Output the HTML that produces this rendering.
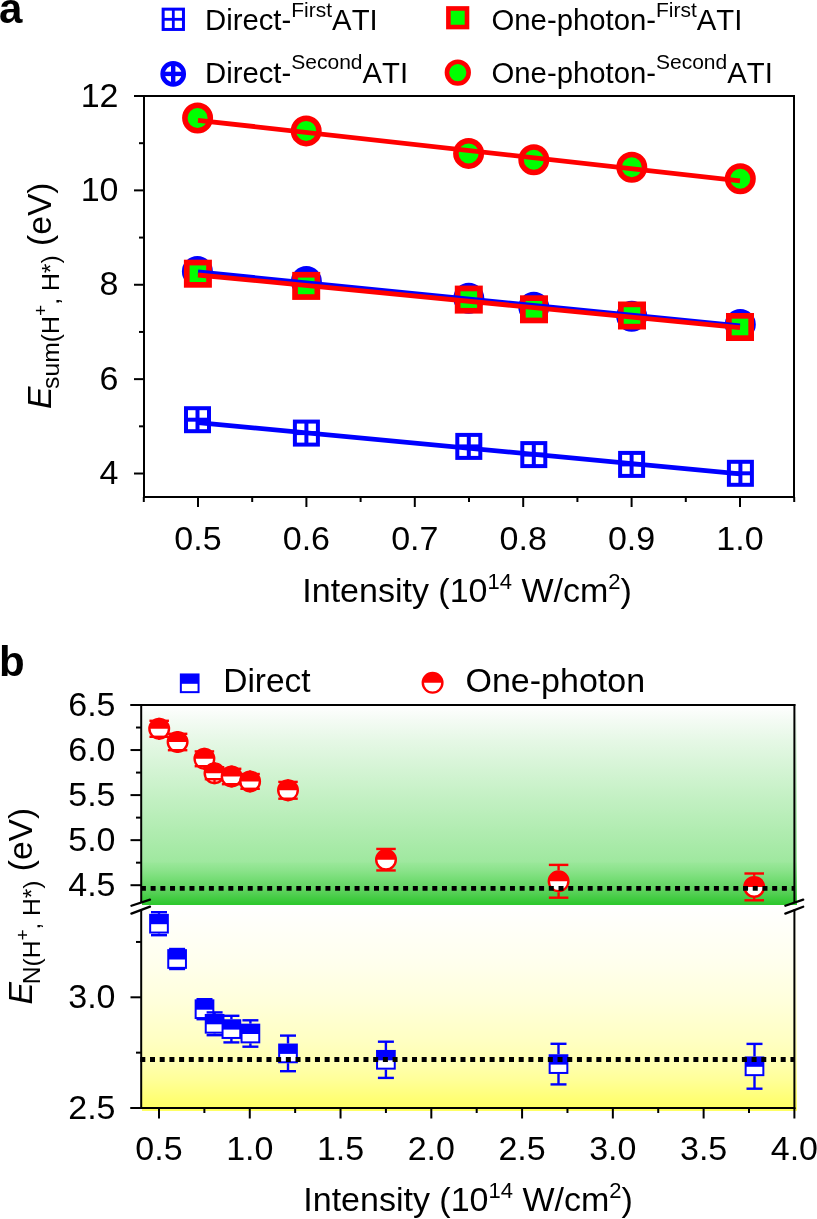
<!DOCTYPE html>
<html><head><meta charset="utf-8"><style>
html,body{margin:0;padding:0;background:#fff;}
svg{display:block;will-change:transform;}
text{font-family:"Liberation Sans", sans-serif;fill:#000;font-kerning:none;}
</style></head><body>
<svg width="817" height="1219" viewBox="0 0 817 1219">
<rect x="144" y="96" width="650" height="401" fill="none" stroke="#000" stroke-width="2"/>
<line x1="134" y1="473.52" x2="144" y2="473.52" stroke="#000" stroke-width="2"/>
<line x1="134" y1="379.14" x2="144" y2="379.14" stroke="#000" stroke-width="2"/>
<line x1="134" y1="284.76" x2="144" y2="284.76" stroke="#000" stroke-width="2"/>
<line x1="134" y1="190.38" x2="144" y2="190.38" stroke="#000" stroke-width="2"/>
<line x1="134" y1="96.00" x2="144" y2="96.00" stroke="#000" stroke-width="2"/>
<line x1="139" y1="426.33" x2="144" y2="426.33" stroke="#000" stroke-width="2"/>
<line x1="139" y1="331.95" x2="144" y2="331.95" stroke="#000" stroke-width="2"/>
<line x1="139" y1="237.57" x2="144" y2="237.57" stroke="#000" stroke-width="2"/>
<line x1="139" y1="143.19" x2="144" y2="143.19" stroke="#000" stroke-width="2"/>
<line x1="198.00" y1="497" x2="198.00" y2="507" stroke="#000" stroke-width="2"/>
<line x1="306.40" y1="497" x2="306.40" y2="507" stroke="#000" stroke-width="2"/>
<line x1="414.80" y1="497" x2="414.80" y2="507" stroke="#000" stroke-width="2"/>
<line x1="523.20" y1="497" x2="523.20" y2="507" stroke="#000" stroke-width="2"/>
<line x1="631.60" y1="497" x2="631.60" y2="507" stroke="#000" stroke-width="2"/>
<line x1="740.00" y1="497" x2="740.00" y2="507" stroke="#000" stroke-width="2"/>
<line x1="143.80" y1="497" x2="143.80" y2="502" stroke="#000" stroke-width="2"/>
<line x1="252.20" y1="497" x2="252.20" y2="502" stroke="#000" stroke-width="2"/>
<line x1="360.60" y1="497" x2="360.60" y2="502" stroke="#000" stroke-width="2"/>
<line x1="469.00" y1="497" x2="469.00" y2="502" stroke="#000" stroke-width="2"/>
<line x1="577.40" y1="497" x2="577.40" y2="502" stroke="#000" stroke-width="2"/>
<line x1="685.80" y1="497" x2="685.80" y2="502" stroke="#000" stroke-width="2"/>
<line x1="794.20" y1="497" x2="794.20" y2="502" stroke="#000" stroke-width="2"/>
<rect x="186.00" y="408.20" width="23.00" height="23.00" fill="#fff" stroke="#0000ff" stroke-width="4"/><line x1="197.50" y1="408.20" x2="197.50" y2="431.20" stroke="#0000ff" stroke-width="4"/><line x1="186.00" y1="419.70" x2="209.00" y2="419.70" stroke="#0000ff" stroke-width="4"/>
<rect x="294.90" y="421.60" width="23.00" height="23.00" fill="#fff" stroke="#0000ff" stroke-width="4"/><line x1="306.40" y1="421.60" x2="306.40" y2="444.60" stroke="#0000ff" stroke-width="4"/><line x1="294.90" y1="433.10" x2="317.90" y2="433.10" stroke="#0000ff" stroke-width="4"/>
<rect x="457.30" y="434.90" width="23.00" height="23.00" fill="#fff" stroke="#0000ff" stroke-width="4"/><line x1="468.80" y1="434.90" x2="468.80" y2="457.90" stroke="#0000ff" stroke-width="4"/><line x1="457.30" y1="446.40" x2="480.30" y2="446.40" stroke="#0000ff" stroke-width="4"/>
<rect x="522.30" y="443.10" width="23.00" height="23.00" fill="#fff" stroke="#0000ff" stroke-width="4"/><line x1="533.80" y1="443.10" x2="533.80" y2="466.10" stroke="#0000ff" stroke-width="4"/><line x1="522.30" y1="454.60" x2="545.30" y2="454.60" stroke="#0000ff" stroke-width="4"/>
<rect x="620.10" y="452.90" width="23.00" height="23.00" fill="#fff" stroke="#0000ff" stroke-width="4"/><line x1="631.60" y1="452.90" x2="631.60" y2="475.90" stroke="#0000ff" stroke-width="4"/><line x1="620.10" y1="464.40" x2="643.10" y2="464.40" stroke="#0000ff" stroke-width="4"/>
<rect x="728.90" y="461.80" width="23.00" height="23.00" fill="#fff" stroke="#0000ff" stroke-width="4"/><line x1="740.40" y1="461.80" x2="740.40" y2="484.80" stroke="#0000ff" stroke-width="4"/><line x1="728.90" y1="473.30" x2="751.90" y2="473.30" stroke="#0000ff" stroke-width="4"/>
<circle cx="197.40" cy="271.50" r="12.75" fill="#fff" stroke="#0000ff" stroke-width="5.5"/><line x1="197.40" y1="258.75" x2="197.40" y2="284.25" stroke="#0000ff" stroke-width="5"/><line x1="184.65" y1="271.50" x2="210.15" y2="271.50" stroke="#0000ff" stroke-width="5"/>
<circle cx="306.40" cy="281.50" r="12.75" fill="#fff" stroke="#0000ff" stroke-width="5.5"/><line x1="306.40" y1="268.75" x2="306.40" y2="294.25" stroke="#0000ff" stroke-width="5"/><line x1="293.65" y1="281.50" x2="319.15" y2="281.50" stroke="#0000ff" stroke-width="5"/>
<circle cx="468.80" cy="298.30" r="12.75" fill="#fff" stroke="#0000ff" stroke-width="5.5"/><line x1="468.80" y1="285.55" x2="468.80" y2="311.05" stroke="#0000ff" stroke-width="5"/><line x1="456.05" y1="298.30" x2="481.55" y2="298.30" stroke="#0000ff" stroke-width="5"/>
<circle cx="533.80" cy="307.20" r="12.75" fill="#fff" stroke="#0000ff" stroke-width="5.5"/><line x1="533.80" y1="294.45" x2="533.80" y2="319.95" stroke="#0000ff" stroke-width="5"/><line x1="521.05" y1="307.20" x2="546.55" y2="307.20" stroke="#0000ff" stroke-width="5"/>
<circle cx="631.70" cy="316.20" r="12.75" fill="#fff" stroke="#0000ff" stroke-width="5.5"/><line x1="631.70" y1="303.45" x2="631.70" y2="328.95" stroke="#0000ff" stroke-width="5"/><line x1="618.95" y1="316.20" x2="644.45" y2="316.20" stroke="#0000ff" stroke-width="5"/>
<circle cx="740.30" cy="324.50" r="12.75" fill="#fff" stroke="#0000ff" stroke-width="5.5"/><line x1="740.30" y1="311.75" x2="740.30" y2="337.25" stroke="#0000ff" stroke-width="5"/><line x1="727.55" y1="324.50" x2="753.05" y2="324.50" stroke="#0000ff" stroke-width="5"/>
<rect x="186.75" y="262.55" width="22.30" height="22.30" fill="#00ff00" stroke="#ff0000" stroke-width="5.7"/>
<rect x="295.05" y="274.75" width="22.30" height="22.30" fill="#00ff00" stroke="#ff0000" stroke-width="5.7"/>
<rect x="457.65" y="288.45" width="22.30" height="22.30" fill="#00ff00" stroke="#ff0000" stroke-width="5.7"/>
<rect x="522.85" y="298.15" width="22.30" height="22.30" fill="#00ff00" stroke="#ff0000" stroke-width="5.7"/>
<rect x="620.85" y="304.35" width="22.30" height="22.30" fill="#00ff00" stroke="#ff0000" stroke-width="5.7"/>
<rect x="728.85" y="315.85" width="22.30" height="22.30" fill="#00ff00" stroke="#ff0000" stroke-width="5.7"/>
<circle cx="197.60" cy="118.00" r="12.75" fill="#00ff00" stroke="#ff0000" stroke-width="5.5"/>
<circle cx="306.20" cy="130.90" r="12.75" fill="#00ff00" stroke="#ff0000" stroke-width="5.5"/>
<circle cx="468.60" cy="153.40" r="12.75" fill="#00ff00" stroke="#ff0000" stroke-width="5.5"/>
<circle cx="533.80" cy="159.70" r="12.75" fill="#00ff00" stroke="#ff0000" stroke-width="5.5"/>
<circle cx="631.80" cy="167.20" r="12.75" fill="#00ff00" stroke="#ff0000" stroke-width="5.5"/>
<circle cx="740.30" cy="178.80" r="12.75" fill="#00ff00" stroke="#ff0000" stroke-width="5.5"/>
<line x1="198" y1="422.6" x2="740" y2="473.9" stroke="#0000ff" stroke-width="4.8"/>
<line x1="198" y1="272" x2="740" y2="326" stroke="#0000ff" stroke-width="4.8"/>
<line x1="198" y1="275" x2="740" y2="327.6" stroke="#ff0000" stroke-width="4.8"/>
<line x1="198" y1="120.3" x2="740" y2="180.8" stroke="#ff0000" stroke-width="4.8"/>
<text x="118.5" y="484.12" text-anchor="end" font-size="34">4</text>
<text x="118.5" y="389.74" text-anchor="end" font-size="34">6</text>
<text x="118.5" y="295.36" text-anchor="end" font-size="34">8</text>
<text x="118.5" y="200.98" text-anchor="end" font-size="34">10</text>
<text x="118.5" y="106.60" text-anchor="end" font-size="34">12</text>
<text x="198.00" y="550.2" text-anchor="middle" font-size="34">0.5</text>
<text x="306.40" y="550.2" text-anchor="middle" font-size="34">0.6</text>
<text x="414.80" y="550.2" text-anchor="middle" font-size="34">0.7</text>
<text x="523.20" y="550.2" text-anchor="middle" font-size="34">0.8</text>
<text x="631.60" y="550.2" text-anchor="middle" font-size="34">0.9</text>
<text x="740.00" y="550.2" text-anchor="middle" font-size="34">1.0</text>
<text x="467.1" y="602" text-anchor="middle" font-size="34">Intensity (10<tspan font-size="22" dy="-13">14</tspan><tspan dy="13"> W/cm</tspan><tspan font-size="22" dy="-13">2</tspan><tspan dy="13">)</tspan></text>
<text transform="translate(51.3,295.7) rotate(-90)" text-anchor="middle" font-size="33.6"><tspan font-style="italic">E</tspan><tspan font-size="24.8" dx="-2.5" dy="7.7">sum(H</tspan><tspan font-size="19" dy="-12">+</tspan><tspan font-size="24.8" dy="12">, H*)</tspan><tspan dy="-7.7"> (eV)</tspan></text>
<rect x="163.15" y="9.15" width="20.30" height="20.30" fill="#fff" stroke="#0000ff" stroke-width="3"/><line x1="173.30" y1="9.15" x2="173.30" y2="29.45" stroke="#0000ff" stroke-width="2.8"/><line x1="163.15" y1="19.30" x2="183.45" y2="19.30" stroke="#0000ff" stroke-width="2.8"/>
<circle cx="173.20" cy="73.90" r="10.55" fill="#fff" stroke="#0000ff" stroke-width="4.6"/><line x1="173.20" y1="63.35" x2="173.20" y2="84.45" stroke="#0000ff" stroke-width="4.4"/><line x1="162.65" y1="73.90" x2="183.75" y2="73.90" stroke="#0000ff" stroke-width="4.4"/>
<rect x="448.40" y="8.45" width="18.60" height="18.60" fill="#00ff00" stroke="#ff0000" stroke-width="4.6"/>
<circle cx="457.80" cy="72.60" r="10.85" fill="#00ff00" stroke="#ff0000" stroke-width="4.6"/>
<text x="205" y="30" font-size="29.3">Direct-<tspan font-size="21" dy="-13.3">First</tspan><tspan dy="13.3">ATI</tspan></text>
<text x="205" y="82.7" font-size="29.3">Direct-<tspan font-size="21" dy="-13.3">Second</tspan><tspan dy="13.3">ATI</tspan></text>
<text x="491.5" y="30" font-size="29.3">One-photon-<tspan font-size="21" dy="-13.3">First</tspan><tspan dy="13.3">ATI</tspan></text>
<text x="491.5" y="82.7" font-size="29.3">One-photon-<tspan font-size="21" dy="-13.3">Second</tspan><tspan dy="13.3">ATI</tspan></text>
<text x="-1" y="22.5" font-size="42" font-weight="bold">a</text>
<text x="-1" y="676" font-size="42" font-weight="bold">b</text>
<defs>
<linearGradient id="gg" gradientUnits="userSpaceOnUse" x1="0" y1="706" x2="0" y2="905">
<stop offset="0.0000" stop-color="rgb(255, 255, 255)"/>
<stop offset="0.0101" stop-color="rgb(253, 254, 253)"/>
<stop offset="0.0704" stop-color="rgb(244, 251, 244)"/>
<stop offset="0.1709" stop-color="rgb(230, 248, 230)"/>
<stop offset="0.4724" stop-color="rgb(194, 240, 194)"/>
<stop offset="0.7839" stop-color="rgb(159, 232, 159)"/>
<stop offset="0.7915" stop-color="rgb(152, 231, 152)"/>
<stop offset="0.8241" stop-color="rgb(140, 227, 140)"/>
<stop offset="0.8643" stop-color="rgb(120, 222, 120)"/>
<stop offset="0.9347" stop-color="rgb(88, 208, 88)"/>
<stop offset="0.9950" stop-color="rgb(46, 200, 46)"/>
<stop offset="1.0000" stop-color="rgb(46, 200, 46)"/>
</linearGradient>
<linearGradient id="yg" gradientUnits="userSpaceOnUse" x1="0" y1="905" x2="0" y2="1111">
<stop offset="0.0000" stop-color="rgb(255, 255, 255)"/>
<stop offset="0.2670" stop-color="rgb(255, 255, 238)"/>
<stop offset="0.4612" stop-color="rgb(255, 255, 220)"/>
<stop offset="0.6553" stop-color="rgb(255, 255, 195)"/>
<stop offset="0.7718" stop-color="rgb(255, 255, 175)"/>
<stop offset="0.8495" stop-color="rgb(255, 255, 152)"/>
<stop offset="0.9466" stop-color="rgb(255, 255, 115)"/>
<stop offset="0.9854" stop-color="rgb(255, 255, 100)"/>
<stop offset="1.0000" stop-color="rgb(255, 255, 100)"/>
</linearGradient>
</defs>
<rect x="142" y="706" width="655" height="199" fill="url(#gg)"/>
<rect x="142" y="905" width="655" height="206" fill="url(#yg)"/>
<line x1="130.5" y1="705" x2="795.4" y2="705" stroke="#000" stroke-width="2"/>
<line x1="130.5" y1="1108" x2="795.4" y2="1108" stroke="#000" stroke-width="2"/>
<line x1="141.2" y1="704" x2="141.2" y2="902.5" stroke="#000" stroke-width="2"/>
<line x1="141.2" y1="909.5" x2="141.2" y2="1109" stroke="#000" stroke-width="2"/>
<line x1="794.4" y1="704" x2="794.4" y2="902.5" stroke="#000" stroke-width="2"/>
<line x1="794.4" y1="909.5" x2="794.4" y2="1109" stroke="#000" stroke-width="2"/>
<line x1="131.4" y1="905.73" x2="150.0" y2="899.67" stroke="#000" stroke-width="2.3" stroke-linecap="round"/>
<line x1="131.4" y1="913.6" x2="150.0" y2="906.6999999999999" stroke="#000" stroke-width="2.3" stroke-linecap="round"/>
<line x1="785.3" y1="905.73" x2="803.2" y2="899.67" stroke="#000" stroke-width="2.3" stroke-linecap="round"/>
<line x1="785.3" y1="913.6" x2="803.2" y2="906.6999999999999" stroke="#000" stroke-width="2.3" stroke-linecap="round"/>
<line x1="130.5" y1="705.00" x2="141" y2="705.00" stroke="#000" stroke-width="2"/>
<line x1="130.5" y1="750.05" x2="141" y2="750.05" stroke="#000" stroke-width="2"/>
<line x1="130.5" y1="795.10" x2="141" y2="795.10" stroke="#000" stroke-width="2"/>
<line x1="130.5" y1="840.15" x2="141" y2="840.15" stroke="#000" stroke-width="2"/>
<line x1="130.5" y1="885.20" x2="141" y2="885.20" stroke="#000" stroke-width="2"/>
<line x1="136" y1="727.52" x2="141" y2="727.52" stroke="#000" stroke-width="2"/>
<line x1="136" y1="772.58" x2="141" y2="772.58" stroke="#000" stroke-width="2"/>
<line x1="136" y1="817.62" x2="141" y2="817.62" stroke="#000" stroke-width="2"/>
<line x1="136" y1="862.67" x2="141" y2="862.67" stroke="#000" stroke-width="2"/>
<line x1="130.5" y1="997.30" x2="141" y2="997.30" stroke="#000" stroke-width="2"/>
<line x1="130.5" y1="1108.00" x2="141" y2="1108.00" stroke="#000" stroke-width="2"/>
<line x1="136" y1="941.95" x2="141" y2="941.95" stroke="#000" stroke-width="2"/>
<line x1="136" y1="1052.65" x2="141" y2="1052.65" stroke="#000" stroke-width="2"/>
<line x1="159.00" y1="1108" x2="159.00" y2="1118.5" stroke="#000" stroke-width="2"/>
<line x1="249.77" y1="1108" x2="249.77" y2="1118.5" stroke="#000" stroke-width="2"/>
<line x1="340.54" y1="1108" x2="340.54" y2="1118.5" stroke="#000" stroke-width="2"/>
<line x1="431.31" y1="1108" x2="431.31" y2="1118.5" stroke="#000" stroke-width="2"/>
<line x1="522.08" y1="1108" x2="522.08" y2="1118.5" stroke="#000" stroke-width="2"/>
<line x1="612.85" y1="1108" x2="612.85" y2="1118.5" stroke="#000" stroke-width="2"/>
<line x1="703.62" y1="1108" x2="703.62" y2="1118.5" stroke="#000" stroke-width="2"/>
<line x1="794.39" y1="1108" x2="794.39" y2="1118.5" stroke="#000" stroke-width="2"/>
<line x1="204.38" y1="1108" x2="204.38" y2="1113" stroke="#000" stroke-width="2"/>
<line x1="295.15" y1="1108" x2="295.15" y2="1113" stroke="#000" stroke-width="2"/>
<line x1="385.92" y1="1108" x2="385.92" y2="1113" stroke="#000" stroke-width="2"/>
<line x1="476.69" y1="1108" x2="476.69" y2="1113" stroke="#000" stroke-width="2"/>
<line x1="567.46" y1="1108" x2="567.46" y2="1113" stroke="#000" stroke-width="2"/>
<line x1="658.23" y1="1108" x2="658.23" y2="1113" stroke="#000" stroke-width="2"/>
<line x1="749.00" y1="1108" x2="749.00" y2="1113" stroke="#000" stroke-width="2"/>
<text x="115.5" y="716.00" text-anchor="end" font-size="34">6.5</text>
<text x="115.5" y="761.05" text-anchor="end" font-size="34">6.0</text>
<text x="115.5" y="806.10" text-anchor="end" font-size="34">5.5</text>
<text x="115.5" y="851.15" text-anchor="end" font-size="34">5.0</text>
<text x="115.5" y="896.20" text-anchor="end" font-size="34">4.5</text>
<text x="115.5" y="1008.30" text-anchor="end" font-size="34">3.0</text>
<text x="115.5" y="1119.00" text-anchor="end" font-size="34">2.5</text>
<text x="159.00" y="1160.3" text-anchor="middle" font-size="34">0.5</text>
<text x="249.77" y="1160.3" text-anchor="middle" font-size="34">1.0</text>
<text x="340.54" y="1160.3" text-anchor="middle" font-size="34">1.5</text>
<text x="431.31" y="1160.3" text-anchor="middle" font-size="34">2.0</text>
<text x="522.08" y="1160.3" text-anchor="middle" font-size="34">2.5</text>
<text x="612.85" y="1160.3" text-anchor="middle" font-size="34">3.0</text>
<text x="703.62" y="1160.3" text-anchor="middle" font-size="34">3.5</text>
<text x="794.39" y="1160.3" text-anchor="middle" font-size="34">4.0</text>
<text x="468.1" y="1211.3" text-anchor="middle" font-size="34">Intensity (10<tspan font-size="22" dy="-13">14</tspan><tspan dy="13"> W/cm</tspan><tspan font-size="22" dy="-13">2</tspan><tspan dy="13">)</tspan></text>
<text transform="translate(32.2,906.2) rotate(-90)" text-anchor="middle" font-size="33.5"><tspan font-style="italic">E</tspan><tspan font-size="24.5" dx="-2" dy="7.7">N(H</tspan><tspan font-size="19" dy="-11.4">+</tspan><tspan font-size="24.5" dy="11.4">, H*)</tspan><tspan dy="-7.7"> (eV)</tspan></text>
<rect x="150.15" y="914.85" width="17.70" height="17.70" fill="#fff" stroke="#0000ff" stroke-width="2"/><rect x="150.15" y="914.85" width="17.70" height="9.35" fill="#0000ff"/>
<line x1="159" y1="912.2" x2="159" y2="913.9000000000001" stroke="#0000ff" stroke-width="2.4"/><line x1="159" y1="933.5" x2="159" y2="935.2" stroke="#0000ff" stroke-width="2.4"/><line x1="151.0" y1="912.2" x2="167.0" y2="912.2" stroke="#0000ff" stroke-width="2.4"/><line x1="151.0" y1="935.2" x2="167.0" y2="935.2" stroke="#0000ff" stroke-width="2.4"/>
<rect x="168.25" y="950.15" width="17.70" height="17.70" fill="#fff" stroke="#0000ff" stroke-width="2"/><rect x="168.25" y="950.15" width="17.70" height="9.35" fill="#0000ff"/>
<line x1="169.1" y1="949" x2="185.1" y2="949" stroke="#0000ff" stroke-width="2.4"/><line x1="169.1" y1="969" x2="185.1" y2="969" stroke="#0000ff" stroke-width="2.4"/>
<rect x="195.65" y="1000.35" width="17.70" height="17.70" fill="#fff" stroke="#0000ff" stroke-width="2"/><rect x="195.65" y="1000.35" width="17.70" height="9.35" fill="#0000ff"/>
<line x1="196.5" y1="999.2" x2="212.5" y2="999.2" stroke="#0000ff" stroke-width="2.4"/><line x1="196.5" y1="1019.2" x2="212.5" y2="1019.2" stroke="#0000ff" stroke-width="2.4"/>
<rect x="205.75" y="1014.95" width="17.70" height="17.70" fill="#fff" stroke="#0000ff" stroke-width="2"/><rect x="205.75" y="1014.95" width="17.70" height="9.35" fill="#0000ff"/>
<line x1="214.6" y1="1012.4" x2="214.6" y2="1014.0" stroke="#0000ff" stroke-width="2.4"/><line x1="214.6" y1="1033.6" x2="214.6" y2="1035.2" stroke="#0000ff" stroke-width="2.4"/><line x1="206.6" y1="1012.4" x2="222.6" y2="1012.4" stroke="#0000ff" stroke-width="2.4"/><line x1="206.6" y1="1035.2" x2="222.6" y2="1035.2" stroke="#0000ff" stroke-width="2.4"/>
<rect x="222.55" y="1020.25" width="17.70" height="17.70" fill="#fff" stroke="#0000ff" stroke-width="2"/><rect x="222.55" y="1020.25" width="17.70" height="9.35" fill="#0000ff"/>
<line x1="231.4" y1="1015.8" x2="231.4" y2="1019.3" stroke="#0000ff" stroke-width="2.4"/><line x1="231.4" y1="1038.8999999999999" x2="231.4" y2="1042.3999999999999" stroke="#0000ff" stroke-width="2.4"/><line x1="223.4" y1="1015.8" x2="239.4" y2="1015.8" stroke="#0000ff" stroke-width="2.4"/><line x1="223.4" y1="1042.3999999999999" x2="239.4" y2="1042.3999999999999" stroke="#0000ff" stroke-width="2.4"/>
<rect x="241.55" y="1024.65" width="17.70" height="17.70" fill="#fff" stroke="#0000ff" stroke-width="2"/><rect x="241.55" y="1024.65" width="17.70" height="9.35" fill="#0000ff"/>
<line x1="250.4" y1="1020.3" x2="250.4" y2="1023.7" stroke="#0000ff" stroke-width="2.4"/><line x1="250.4" y1="1043.3" x2="250.4" y2="1046.7" stroke="#0000ff" stroke-width="2.4"/><line x1="242.4" y1="1020.3" x2="258.4" y2="1020.3" stroke="#0000ff" stroke-width="2.4"/><line x1="242.4" y1="1046.7" x2="258.4" y2="1046.7" stroke="#0000ff" stroke-width="2.4"/>
<rect x="279.15" y="1044.55" width="17.70" height="17.70" fill="#fff" stroke="#0000ff" stroke-width="2"/><rect x="279.15" y="1044.55" width="17.70" height="9.35" fill="#0000ff"/>
<line x1="288" y1="1035.6000000000001" x2="288" y2="1043.6000000000001" stroke="#0000ff" stroke-width="2.4"/><line x1="288" y1="1063.2" x2="288" y2="1071.2" stroke="#0000ff" stroke-width="2.4"/><line x1="280.0" y1="1035.6000000000001" x2="296.0" y2="1035.6000000000001" stroke="#0000ff" stroke-width="2.4"/><line x1="280.0" y1="1071.2" x2="296.0" y2="1071.2" stroke="#0000ff" stroke-width="2.4"/>
<rect x="377.05" y="1050.95" width="17.70" height="17.70" fill="#fff" stroke="#0000ff" stroke-width="2"/><rect x="377.05" y="1050.95" width="17.70" height="9.35" fill="#0000ff"/>
<line x1="385.9" y1="1041.7" x2="385.9" y2="1050.0" stroke="#0000ff" stroke-width="2.4"/><line x1="385.9" y1="1069.6" x2="385.9" y2="1077.8999999999999" stroke="#0000ff" stroke-width="2.4"/><line x1="377.9" y1="1041.7" x2="393.9" y2="1041.7" stroke="#0000ff" stroke-width="2.4"/><line x1="377.9" y1="1077.8999999999999" x2="393.9" y2="1077.8999999999999" stroke="#0000ff" stroke-width="2.4"/>
<rect x="549.65" y="1055.25" width="17.70" height="17.70" fill="#fff" stroke="#0000ff" stroke-width="2"/><rect x="549.65" y="1055.25" width="17.70" height="9.35" fill="#0000ff"/>
<line x1="558.5" y1="1043.8" x2="558.5" y2="1054.3" stroke="#0000ff" stroke-width="2.4"/><line x1="558.5" y1="1073.8999999999999" x2="558.5" y2="1084.3999999999999" stroke="#0000ff" stroke-width="2.4"/><line x1="550.5" y1="1043.8" x2="566.5" y2="1043.8" stroke="#0000ff" stroke-width="2.4"/><line x1="550.5" y1="1084.3999999999999" x2="566.5" y2="1084.3999999999999" stroke="#0000ff" stroke-width="2.4"/>
<rect x="745.65" y="1057.45" width="17.70" height="17.70" fill="#fff" stroke="#0000ff" stroke-width="2"/><rect x="745.65" y="1057.45" width="17.70" height="9.35" fill="#0000ff"/>
<line x1="754.5" y1="1043.8999999999999" x2="754.5" y2="1056.5" stroke="#0000ff" stroke-width="2.4"/><line x1="754.5" y1="1076.1" x2="754.5" y2="1088.7" stroke="#0000ff" stroke-width="2.4"/><line x1="746.5" y1="1043.8999999999999" x2="762.5" y2="1043.8999999999999" stroke="#0000ff" stroke-width="2.4"/><line x1="746.5" y1="1088.7" x2="762.5" y2="1088.7" stroke="#0000ff" stroke-width="2.4"/>
<circle cx="159.2" cy="728.8" r="9.80" fill="#fff" stroke="#ff0000" stroke-width="2.4"/><path d="M149.40,728.8 A9.80,9.80 0 0 1 169.00,728.8 Z" fill="#ff0000"/>
<line x1="159.2" y1="720.8" x2="159.2" y2="717.8" stroke="#ff0000" stroke-width="2.4"/><line x1="159.2" y1="739.8" x2="159.2" y2="736.8" stroke="#ff0000" stroke-width="2.4"/><line x1="149.45" y1="720.8" x2="168.95" y2="720.8" stroke="#ff0000" stroke-width="2.4"/><line x1="149.45" y1="736.8" x2="168.95" y2="736.8" stroke="#ff0000" stroke-width="2.4"/>
<circle cx="177.6" cy="742" r="9.80" fill="#fff" stroke="#ff0000" stroke-width="2.4"/><path d="M167.80,742 A9.80,9.80 0 0 1 187.40,742 Z" fill="#ff0000"/>
<line x1="177.6" y1="733.8" x2="177.6" y2="731" stroke="#ff0000" stroke-width="2.4"/><line x1="177.6" y1="753" x2="177.6" y2="750.2" stroke="#ff0000" stroke-width="2.4"/><line x1="167.85" y1="733.8" x2="187.35" y2="733.8" stroke="#ff0000" stroke-width="2.4"/><line x1="167.85" y1="750.2" x2="187.35" y2="750.2" stroke="#ff0000" stroke-width="2.4"/>
<circle cx="204.4" cy="758.8" r="9.80" fill="#fff" stroke="#ff0000" stroke-width="2.4"/><path d="M194.60,758.8 A9.80,9.80 0 0 1 214.20,758.8 Z" fill="#ff0000"/>
<line x1="204.4" y1="751.4" x2="204.4" y2="747.8" stroke="#ff0000" stroke-width="2.4"/><line x1="204.4" y1="769.8" x2="204.4" y2="766.1999999999999" stroke="#ff0000" stroke-width="2.4"/><line x1="194.65" y1="751.4" x2="214.15" y2="751.4" stroke="#ff0000" stroke-width="2.4"/><line x1="194.65" y1="766.1999999999999" x2="214.15" y2="766.1999999999999" stroke="#ff0000" stroke-width="2.4"/>
<circle cx="214.5" cy="773.2" r="9.80" fill="#fff" stroke="#ff0000" stroke-width="2.4"/><path d="M204.70,773.2 A9.80,9.80 0 0 1 224.30,773.2 Z" fill="#ff0000"/>
<line x1="214.5" y1="767.2" x2="214.5" y2="762.2" stroke="#ff0000" stroke-width="2.4"/><line x1="214.5" y1="784.2" x2="214.5" y2="779.2" stroke="#ff0000" stroke-width="2.4"/><line x1="204.75" y1="767.2" x2="224.25" y2="767.2" stroke="#ff0000" stroke-width="2.4"/><line x1="204.75" y1="779.2" x2="224.25" y2="779.2" stroke="#ff0000" stroke-width="2.4"/>
<circle cx="231.6" cy="776.5" r="9.80" fill="#fff" stroke="#ff0000" stroke-width="2.4"/><path d="M221.80,776.5 A9.80,9.80 0 0 1 241.40,776.5 Z" fill="#ff0000"/>
<line x1="231.6" y1="768.8" x2="231.6" y2="765.5" stroke="#ff0000" stroke-width="2.4"/><line x1="231.6" y1="787.5" x2="231.6" y2="784.2" stroke="#ff0000" stroke-width="2.4"/><line x1="221.85" y1="768.8" x2="241.35" y2="768.8" stroke="#ff0000" stroke-width="2.4"/><line x1="221.85" y1="784.2" x2="241.35" y2="784.2" stroke="#ff0000" stroke-width="2.4"/>
<circle cx="250.1" cy="781.4" r="9.80" fill="#fff" stroke="#ff0000" stroke-width="2.4"/><path d="M240.30,781.4 A9.80,9.80 0 0 1 259.90,781.4 Z" fill="#ff0000"/>
<line x1="250.1" y1="774.0" x2="250.1" y2="770.4" stroke="#ff0000" stroke-width="2.4"/><line x1="250.1" y1="792.4" x2="250.1" y2="788.8" stroke="#ff0000" stroke-width="2.4"/><line x1="240.35" y1="774.0" x2="259.85" y2="774.0" stroke="#ff0000" stroke-width="2.4"/><line x1="240.35" y1="788.8" x2="259.85" y2="788.8" stroke="#ff0000" stroke-width="2.4"/>
<circle cx="288" cy="790.3" r="9.80" fill="#fff" stroke="#ff0000" stroke-width="2.4"/><path d="M278.20,790.3 A9.80,9.80 0 0 1 297.80,790.3 Z" fill="#ff0000"/>
<line x1="288" y1="781.9" x2="288" y2="779.3" stroke="#ff0000" stroke-width="2.4"/><line x1="288" y1="801.3" x2="288" y2="798.6999999999999" stroke="#ff0000" stroke-width="2.4"/><line x1="278.25" y1="781.9" x2="297.75" y2="781.9" stroke="#ff0000" stroke-width="2.4"/><line x1="278.25" y1="798.6999999999999" x2="297.75" y2="798.6999999999999" stroke="#ff0000" stroke-width="2.4"/>
<circle cx="386" cy="859.7" r="9.80" fill="#fff" stroke="#ff0000" stroke-width="2.4"/><path d="M376.20,859.7 A9.80,9.80 0 0 1 395.80,859.7 Z" fill="#ff0000"/>
<line x1="376.25" y1="848.95" x2="395.75" y2="848.95" stroke="#ff0000" stroke-width="2.4"/><line x1="376.25" y1="870.45" x2="395.75" y2="870.45" stroke="#ff0000" stroke-width="2.4"/>
<circle cx="558.6" cy="881.3" r="9.80" fill="#fff" stroke="#ff0000" stroke-width="2.4"/><path d="M548.80,881.3 A9.80,9.80 0 0 1 568.40,881.3 Z" fill="#ff0000"/>
<line x1="558.6" y1="864.9" x2="558.6" y2="870.3" stroke="#ff0000" stroke-width="2.4"/><line x1="558.6" y1="892.3" x2="558.6" y2="897.6999999999999" stroke="#ff0000" stroke-width="2.4"/><line x1="548.85" y1="864.9" x2="568.35" y2="864.9" stroke="#ff0000" stroke-width="2.4"/><line x1="548.85" y1="897.6999999999999" x2="568.35" y2="897.6999999999999" stroke="#ff0000" stroke-width="2.4"/>
<circle cx="754.2" cy="886.9" r="9.80" fill="#fff" stroke="#ff0000" stroke-width="2.4"/><path d="M744.40,886.9 A9.80,9.80 0 0 1 764.00,886.9 Z" fill="#ff0000"/>
<line x1="754.2" y1="873.5" x2="754.2" y2="875.9" stroke="#ff0000" stroke-width="2.4"/><line x1="754.2" y1="897.9" x2="754.2" y2="900.3" stroke="#ff0000" stroke-width="2.4"/><line x1="744.45" y1="873.5" x2="763.95" y2="873.5" stroke="#ff0000" stroke-width="2.4"/><line x1="744.45" y1="900.3" x2="763.95" y2="900.3" stroke="#ff0000" stroke-width="2.4"/>
<line x1="140.9" y1="888.35" x2="794.4" y2="888.35" stroke="#000" stroke-width="4.9" stroke-dasharray="5 4.712"/>
<line x1="140.3" y1="1059.5" x2="794.4" y2="1059.5" stroke="#000" stroke-width="4.9" stroke-dasharray="5 4.703"/>
<rect x="180.85" y="674.45" width="17.70" height="17.70" fill="#fff" stroke="#0000ff" stroke-width="2"/><rect x="180.85" y="674.45" width="17.70" height="9.35" fill="#0000ff"/>
<circle cx="432.6" cy="682.8" r="9.80" fill="#fff" stroke="#ff0000" stroke-width="2.4"/><path d="M422.80,682.8 A9.80,9.80 0 0 1 442.40,682.8 Z" fill="#ff0000"/>
<text x="223.2" y="692" font-size="33.5">Direct</text>
<text x="465.5" y="691.5" font-size="34">One-photon</text>
</svg>
</body></html>
